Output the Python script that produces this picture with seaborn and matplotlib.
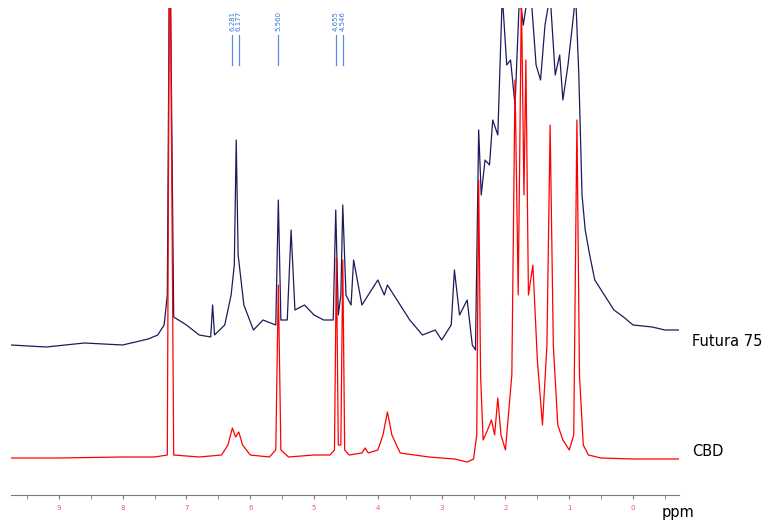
import numpy as np
import pandas as pd
import seaborn as sns
import matplotlib
matplotlib.use('Agg')
import matplotlib.pyplot as plt

# Futura 75 trace (ppm, height), offset already included
futura_ppm = [9.75, 9.2, 8.6, 8.0, 7.6, 7.45, 7.35, 7.3, 7.27, 7.26, 7.25, 7.2, 7.0, 6.8, 6.62, 6.59, 6.56, 6.4,
              6.3, 6.25, 6.22, 6.19, 6.1, 5.95, 5.8, 5.6, 5.56, 5.52, 5.42, 5.36, 5.3, 5.15, 5.0, 4.85, 4.7,
              4.66, 4.62, 4.58, 4.55, 4.5, 4.42, 4.38, 4.25, 4.1, 4.0, 3.9, 3.85, 3.8, 3.65, 3.5, 3.3, 3.1,
              3.0, 2.85, 2.8, 2.72, 2.6, 2.52, 2.47, 2.42, 2.38, 2.32, 2.25, 2.2, 2.12, 2.05, 1.98, 1.92,
              1.85, 1.78, 1.72, 1.65, 1.6, 1.52, 1.45, 1.38, 1.3, 1.22, 1.15, 1.1, 1.02, 0.95, 0.9, 0.85,
              0.8, 0.75, 0.68, 0.6, 0.45, 0.3, 0.15, 0.0, -0.3, -0.5, -0.72]
futura_int = [150, 148, 152, 150, 156, 160, 170, 200, 500, 500, 500, 178, 170, 160, 158, 190, 160, 170,
              200, 230, 355, 240, 190, 165, 175, 170, 295, 175, 175, 265, 185, 190, 180, 175, 175,
              285, 180, 200, 290, 200, 190, 235, 190, 205, 215, 200, 210, 205, 190, 175, 160, 165,
              155, 170, 225, 180, 195, 150, 145, 365, 300, 335, 330, 375, 360, 500, 430, 435,
              390, 500, 470, 500, 500, 430, 415, 470, 500, 420, 440, 395, 430, 470, 500, 420,
              300, 265, 240, 215, 200, 185, 178, 170, 168, 165, 165]

# CBD trace (ppm, height)
cbd_ppm = [9.75, 9.0, 8.0, 7.5, 7.3, 7.27, 7.26, 7.25, 7.2, 6.8, 6.45, 6.35, 6.28, 6.23, 6.18, 6.12, 6.0,
           5.7, 5.6, 5.56, 5.52, 5.4, 5.0, 4.75, 4.68, 4.65, 4.62, 4.58, 4.55, 4.52, 4.45, 4.25, 4.2,
           4.15, 4.0, 3.92, 3.85, 3.78, 3.65, 3.2, 2.8, 2.6, 2.5, 2.45, 2.42, 2.39, 2.35, 2.28, 2.22,
           2.17, 2.12, 2.07, 2.0, 1.9, 1.85, 1.8, 1.75, 1.71, 1.68, 1.64, 1.57, 1.5, 1.42, 1.35, 1.3,
           1.25, 1.18, 1.1, 1.0, 0.93, 0.88, 0.84, 0.78, 0.7, 0.5, 0.0, -0.72]
cbd_int = [37, 37, 38, 38, 40, 500, 500, 500, 40, 38, 40, 50, 67, 58, 63, 50, 40,
           38, 45, 210, 45, 38, 40, 40, 45, 237, 50, 50, 235, 45, 40, 42, 47,
           42, 45, 60, 83, 60, 42, 38, 36, 33, 36, 60, 315, 120, 55, 65, 75,
           60, 97, 60, 45, 120, 415, 200, 500, 300, 435, 200, 230, 135, 70, 150, 370,
           150, 70, 55, 45, 60, 375, 120, 50, 40, 37, 36, 36]

peak_labels = ['6.281', '6.177', '5.560', '4.655', '4.546']
peak_pos = [6.281, 6.177, 5.560, 4.655, 4.546]
tick_ppm = [9, 8, 7, 6, 5, 4, 3, 2, 1, 0]

df = pd.concat([
    pd.DataFrame({'ppm': futura_ppm, 'y': futura_int, 's': 'Futura 75'}),
    pd.DataFrame({'ppm': cbd_ppm, 'y': cbd_int, 's': 'CBD'}),
])

fig = plt.figure(figsize=(7.65, 5.25), dpi=100)
ax = fig.add_axes([11 / 765, 30 / 525, 668 / 765, 487 / 525])
sns.lineplot(data=df, x='ppm', y='y', hue='s', palette={'Futura 75': '#1b1b5e', 'CBD': '#ff0000'},
             estimator=None, sort=False, lw=0.9, legend=False, ax=ax)
ax.set_xlim(9.75, -0.72)
ax.set_ylim(0, 487)
for sp in ['top', 'right', 'left']:
    ax.spines[sp].set_visible(False)
ax.spines['bottom'].set_color('#777777')
ax.set_yticks([])
ax.set_ylabel('')
ax.set_xlabel('')
ax.set_xticks(tick_ppm)
ax.set_xticks(np.arange(9.5, -0.6, -1.0), minor=True)
ax.set_xticklabels([str(t) for t in tick_ppm], color='#ff5555', fontsize=5)
ax.tick_params(axis='x', length=3, color='#777777', which='both', pad=4)
ax.text(-0.45, -22, 'ppm', fontsize=10.5, clip_on=False)

for p, lab in zip(peak_pos, peak_labels):
    ax.plot([p, p], [430, 460], color='#5a8ee0', lw=0.9)
    ax.text(p, 464, lab, rotation=90, fontsize=5, color='#3a78d8', ha='center', va='bottom')

fig.text(692 / 765, 1 - 341 / 525, 'Futura 75', fontsize=10.5, va='center')
fig.text(692 / 765, 1 - 451 / 525, 'CBD', fontsize=10.5, va='center')
fig.savefig('out.png', dpi=100)
